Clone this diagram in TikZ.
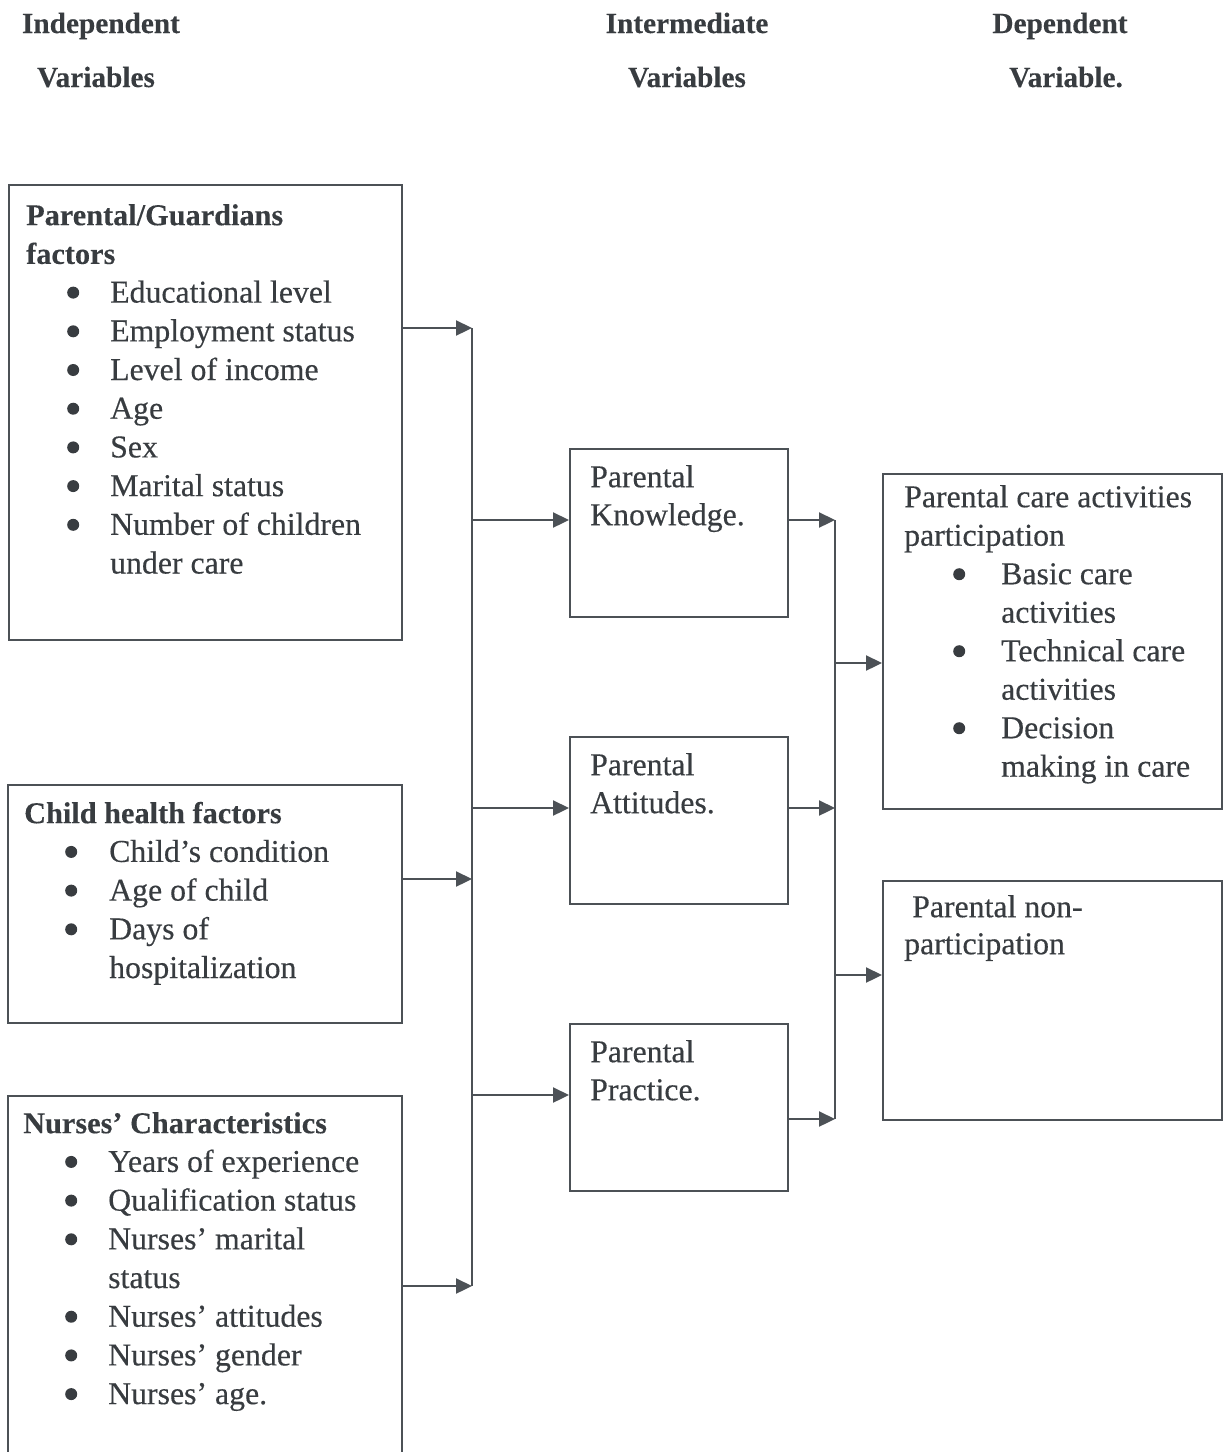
\documentclass[tikz,border=0pt]{standalone}
\usepackage{fontspec}
\setmainfont{Liberation Serif}[FakeBold=0.35, BoldFeatures={FakeBold=0.2}]
\usetikzlibrary{arrows.meta}
\definecolor{ink}{RGB}{56,60,64}
\definecolor{edge}{RGB}{76,81,86}
\newcommand\dotmark{\tikz[baseline=0pt]\fill[ink] (0pt,10pt) circle[radius=6pt];}
\newcommand\bl[2]{\hspace*{#1pt}\makebox[0pt]{\dotmark}\hspace*{#2pt}}
\newcommand\cont[1]{\hspace*{#1pt}}
\newcommand\fl{\rule{0pt}{24pt}}
\newcommand\hd[1]{{\fontsize{30.3}{38.7}\selectfont\bfseries #1}}
\begin{document}
\begin{tikzpicture}[x=1pt,y=-1pt,
  box/.style={draw=edge, line width=2.3pt, inner sep=0pt, anchor=north west},
  txt/.style={anchor=north west, inner sep=0pt, align=left, text=ink, font=\fontsize{31.8}{38.7}\selectfont},
  head/.style={anchor=base, inner sep=0pt, text=ink, font=\fontsize{29.3}{35}\selectfont\bfseries},
  conn/.style={draw=edge, line width=2.3pt},
  arr/.style={conn, -{Triangle[length=16pt,width=15pt]}}]
\useasboundingbox (0,0) rectangle (1229,1452);
\clip (0,0) rectangle (1229,1452);

% headers
\node[head] (h1) at (101,33) {Independent};
\node[head] (h2) at (96,87) {Variables};
\node[head] (h3) at (687,33) {Intermediate};
\node[head] (h4) at (687,87) {Variables};
\node[head] (h5) at (1060,33) {Dependent};
\node[head] (h6) at (1066,87) {Variable.};

% boxes
\node[box, minimum width=393pt, minimum height=455pt] (b1) at (8,184) {};
\node[box, minimum width=394pt, minimum height=238pt] (b2) at (7,784) {};
\node[box, minimum width=394pt, minimum height=420pt] (b3) at (7,1095) {};
\node[box, minimum width=218pt, minimum height=168pt] (m1) at (569,448) {};
\node[box, minimum width=218pt, minimum height=167pt] (m2) at (569,736) {};
\node[box, minimum width=218pt, minimum height=167pt] (m3) at (569,1023) {};
\node[box, minimum width=339pt, minimum height=335pt] (r1) at (882,473) {};
\node[box, minimum width=339pt, minimum height=239pt] (r2) at (882,880) {};

% box texts
\node[txt] (t1) at (26,201) {\fl\hd{Parental/Guardians}\\\hd{factors}\\
 \bl{47}{37}Educational level\\\bl{47}{37}Employment status\\\bl{47}{37}Level of income\\
 \bl{47}{37}Age\\\bl{47}{37}Sex\\\bl{47}{37}Marital status\\
 \bl{47}{37}Number of children\\\cont{84}under care};
\node[txt] (t2) at (24,799) {\fl\hd{Child health factors}\\
 \bl{47}{38}Child’s condition\\\bl{47}{38}Age of child\\\bl{47}{38}Days of\\\cont{85}hospitalization};
\node[txt] (t3) at (23,1109) {\fl\hd{Nurses’ Characteristics}\\
 \bl{48}{37}Years of experience\\\bl{48}{37}Qualification status\\
 \bl{48}{37}Nurses’ marital\\\cont{85}status\\\bl{48}{37}Nurses’ attitudes\\
 \bl{48}{37}Nurses’ gender\\\bl{48}{37}Nurses’ age.};
\node[txt, font=\fontsize{31.8}{38}\selectfont] (mt1) at (590,463) {\fl Parental\\Knowledge.};
\node[txt, font=\fontsize{31.8}{38}\selectfont] (mt2) at (590,751) {\fl Parental\\Attitudes.};
\node[txt, font=\fontsize{31.8}{38}\selectfont] (mt3) at (590,1038) {\fl Parental\\Practice.};
\node[txt, font=\fontsize{31.8}{38.5}\selectfont] (rt1) at (904,483) {\fl Parental care activities\\participation\\
 \bl{55}{42}Basic care\\\cont{97}activities\\\bl{55}{42}Technical care\\\cont{97}activities\\
 \bl{55}{42}Decision\\\cont{97}making in care};
\node[txt, font=\fontsize{31.8}{37}\selectfont] (rt2) at (904,893) {\fl\cont{8}Parental non-\\participation};

% connectors: left column to first bus
\coordinate (j1) at (472,328);
\coordinate (j2) at (472,879);
\coordinate (j3) at (472,1286);
\draw[arr] (b1.east |- j1) -- (j1);
\draw[arr] (b2.east |- j2) -- (j2);
\draw[arr] (b3.east |- j3) -- (j3);
\draw[conn] (j1) -- (j3);
% first bus to middle boxes
\coordinate (k1) at (472,520);
\coordinate (k2) at (472,808);
\coordinate (k3) at (472,1095);
\draw[arr] (k1) -- (m1.west |- k1);
\draw[arr] (k2) -- (m2.west |- k2);
\draw[arr] (k3) -- (m3.west |- k3);
% middle boxes to second bus
\coordinate (p1) at (835,520);
\coordinate (p2) at (835,808);
\coordinate (p3) at (835,1119);
\draw[arr] (m1.east |- p1) -- (p1);
\draw[arr] (m2.east |- p2) -- (p2);
\draw[arr] (m3.east |- p3) -- (p3);
\draw[conn] (p1) -- (p3);
% second bus to dependent boxes
\coordinate (q1) at (835,663);
\coordinate (q2) at (835,975);
\draw[arr] (q1) -- (r1.west |- q1);
\draw[arr] (q2) -- (r2.west |- q2);
\end{tikzpicture}
\end{document}
